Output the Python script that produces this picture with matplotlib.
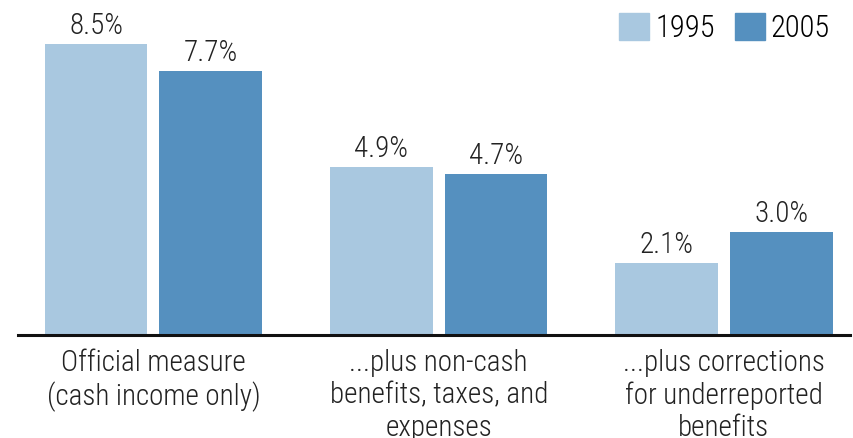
import matplotlib
matplotlib.use("Agg")
import matplotlib.pyplot as plt
from matplotlib.patches import Patch
import numpy as np

categories = ["Official measure\n(cash income only)",
              "...plus non-cash\nbenefits, taxes, and\nexpenses",
              "...plus corrections\nfor underreported\nbenefits"]
series_names = ["1995", "2005"]
values_1995 = [8.5, 4.9, 2.1]
values_2005 = [7.7, 4.7, 3.0]
labels_1995 = ["8.5%", "4.9%", "2.1%"]
labels_2005 = ["7.7%", "4.7%", "3.0%"]

c_light = "#a9c8e0"
c_dark = "#5590bf"

plt.rcParams['font.family'] = ['Roboto Condensed', 'DejaVu Sans']
plt.rcParams['font.weight'] = 300

W, H = 854, 438
fig = plt.figure(figsize=(W / 100, H / 100), dpi=100)
left_px, right_px = 18, 850
base_px, top_px = 335, 3
ax = fig.add_axes([left_px / W, (H - base_px) / H, (right_px - left_px) / W, (base_px - top_px) / H])

x = np.arange(len(categories))
bw = 0.36
off = 0.201
b1 = ax.bar(x - off, values_1995, bw, color=c_light)
b2 = ax.bar(x + off, values_2005, bw, color=c_dark)

ymax = 8.5 * (base_px - top_px) / (335 - 44)
ax.set_ylim(0, ymax)
ax.set_xlim(-0.475, 2.442)

for bars, labs in ((b1, labels_1995), (b2, labels_2005)):
    for r, t in zip(bars, labs):
        ax.annotate(t, (r.get_x() + r.get_width() / 2, r.get_height()),
                    xytext=(0, 3), textcoords="offset points",
                    ha="center", va="bottom", fontsize=21, color="#222222",
                    fontweight=300)

for s in ["top", "right", "left"]:
    ax.spines[s].set_visible(False)
ax.spines["bottom"].set_linewidth(2.2)
ax.spines["bottom"].set_color("#111111")
ax.set_yticks([])
ax.set_xticks(x)
ax.set_xticklabels(categories, fontsize=21, color="#222222", linespacing=1.2,
                   fontweight=300)
ax.tick_params(axis="x", length=0, pad=10)

handles = [Patch(color=c_light), Patch(color=c_dark)]
leg = ax.legend(handles, series_names, loc="upper right", ncol=2, frameon=False,
                fontsize=22, handlelength=0.98, handleheight=0.98, handletextpad=0.2,
                columnspacing=0.65, borderaxespad=0, borderpad=0,
                bbox_to_anchor=(830 / W, 1 - 13 / H), bbox_transform=fig.transFigure)
for t in leg.get_texts():
    t.set_fontweight(300)

fig.savefig("out.png", dpi=100)
